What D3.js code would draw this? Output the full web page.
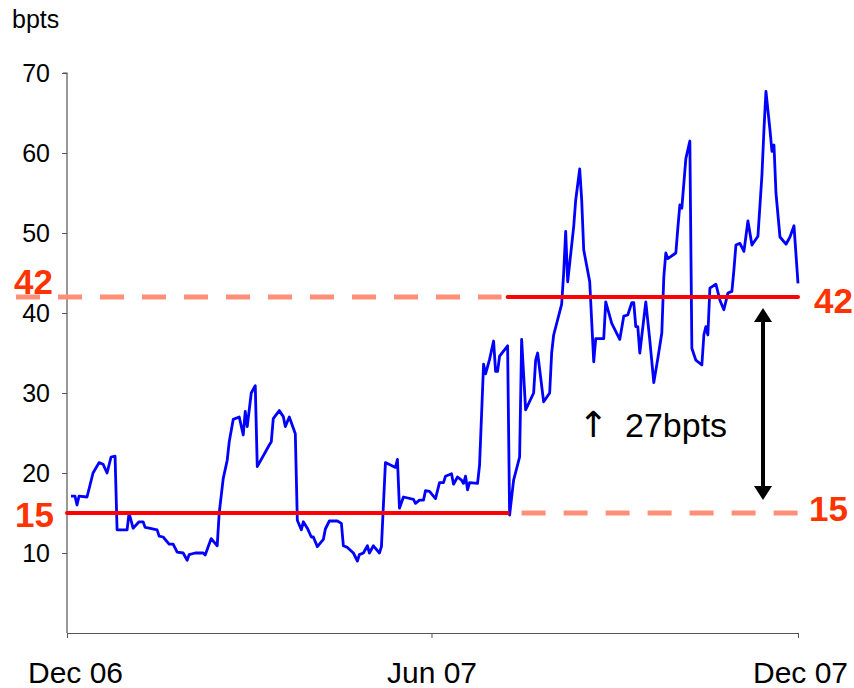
<!DOCTYPE html>
<html>
<head>
<meta charset="utf-8">
<script src="https://cdn.jsdelivr.net/npm/d3@7"></script>
<style>
  html, body { margin: 0; padding: 0; background: #fff; }
  svg { display: block; font-family: "Liberation Sans", Arial, sans-serif; }
</style>
</head>
<body>
<svg id="chart" width="854" height="688"></svg>
<script>
// Spread series (basis points), daily observations
const dates = [
  "2006-12-03","2006-12-05","2006-12-06","2006-12-07","2006-12-11","2006-12-14","2006-12-17","2006-12-19","2006-12-21","2006-12-23",
  "2006-12-25","2006-12-26","2006-12-31","2007-01-01","2007-01-03","2007-01-06","2007-01-08","2007-01-09","2007-01-11","2007-01-15",
  "2007-01-16","2007-01-18","2007-01-21","2007-01-23","2007-01-25","2007-01-28","2007-01-30","2007-01-31","2007-02-03","2007-02-07",
  "2007-02-08","2007-02-11","2007-02-14","2007-02-15","2007-02-17","2007-02-19","2007-02-20","2007-02-22","2007-02-25","2007-02-27",
  "2007-02-28","2007-03-01","2007-03-03","2007-03-05","2007-03-06","2007-03-12","2007-03-13","2007-03-14","2007-03-17","2007-03-19",
  "2007-03-20","2007-03-22","2007-03-25","2007-03-26","2007-03-28","2007-03-29","2007-03-31","2007-04-02","2007-04-03","2007-04-05",
  "2007-04-08","2007-04-09","2007-04-11","2007-04-15","2007-04-17","2007-04-18","2007-04-20","2007-04-23","2007-04-24","2007-04-25",
  "2007-04-26","2007-04-28","2007-04-30","2007-05-01","2007-05-03","2007-05-06","2007-05-07","2007-05-09","2007-05-14","2007-05-15",
  "2007-05-16","2007-05-18","2007-05-23","2007-05-24","2007-05-26","2007-05-28","2007-05-29","2007-05-31","2007-06-03","2007-06-05",
  "2007-06-07","2007-06-08","2007-06-11","2007-06-12","2007-06-14","2007-06-16","2007-06-17","2007-06-18","2007-06-19","2007-06-20",
  "2007-06-24","2007-06-25","2007-06-27","2007-06-28","2007-06-30","2007-07-02","2007-07-03","2007-07-04","2007-07-05","2007-07-09",
  "2007-07-10","2007-07-12","2007-07-15","2007-07-16","2007-07-18","2007-07-22","2007-07-23","2007-07-24","2007-07-27","2007-07-30",
  "2007-07-31","2007-08-01","2007-08-05","2007-08-06","2007-08-07","2007-08-08","2007-08-11","2007-08-12","2007-08-14","2007-08-15",
  "2007-08-16","2007-08-19","2007-08-21","2007-08-22","2007-08-26","2007-08-27","2007-08-30","2007-09-03","2007-09-05","2007-09-07",
  "2007-09-09","2007-09-10","2007-09-11","2007-09-12","2007-09-13","2007-09-16","2007-09-18","2007-09-20","2007-09-22","2007-09-24",
  "2007-09-25","2007-09-26","2007-09-27","2007-10-01","2007-10-02","2007-10-03","2007-10-04","2007-10-06","2007-10-08","2007-10-09",
  "2007-10-11","2007-10-14","2007-10-15","2007-10-16","2007-10-17","2007-10-18","2007-10-21","2007-10-23","2007-10-25","2007-10-27",
  "2007-10-29","2007-10-30","2007-10-31","2007-11-02","2007-11-04","2007-11-06","2007-11-08","2007-11-11","2007-11-13","2007-11-14",
  "2007-11-15","2007-11-17","2007-11-18","2007-11-19","2007-11-20","2007-11-22","2007-11-25","2007-11-27","2007-11-29","2007-12-01"
];
const spread = [
  17.1, 17.1, 16.0, 17.1, 17.0, 20.0, 21.3, 21.1, 20.0, 22.0,
  22.1, 12.9, 12.9, 15.0, 13.1, 13.9, 13.9, 13.2, 13.1, 12.9,
  12.1, 12.0, 11.1, 11.1, 10.1, 10.0, 9.1, 9.8, 10.0, 10.0,
  9.75, 11.8, 10.9, 15.0, 19.3, 21.6, 23.9, 26.7, 27.0, 24.75,
  27.7, 25.8, 30.0, 30.9, 20.8, 23.5, 23.9, 26.8, 27.8, 27.05,
  25.8, 27.0, 24.9, 14.1, 12.9, 13.9, 13.1, 12.0, 12.0, 10.8,
  11.7, 13.0, 14.0, 14.0, 13.7, 10.9, 10.7, 10.0, 9.5, 9.0,
  9.8, 10.0, 10.9, 10.0, 10.9, 10.0, 10.8, 21.3, 20.7, 21.7,
  15.6, 17.0, 16.7, 16.2, 16.6, 16.6, 17.8, 17.7, 16.8, 18.8,
  18.8, 19.6, 19.9, 18.6, 19.5, 19.1, 18.7, 19.6, 17.9, 18.8,
  18.7, 21.0, 33.6, 32.4, 34.2, 36.5, 32.7, 32.7, 34.6, 35.9,
  14.75, 19.1, 22.0, 36.7, 27.9, 30.0, 34.1, 35.0, 28.9, 30.0,
  35.0, 37.25, 41.1, 45.0, 50.2, 43.9, 50.8, 54.1, 58.0, 54.1,
  47.9, 43.9, 33.9, 36.8, 36.8, 41.4, 38.7, 36.7, 39.6, 39.75,
  41.3, 41.3, 38.3, 38.3, 35.0, 41.4, 36.6, 31.3, 34.3, 37.5,
  44.5, 47.5, 46.8, 47.5, 50.6, 53.5, 53.1, 59.3, 61.5, 35.6,
  34.1, 33.5, 37.25, 38.3, 37.25, 43.1, 43.6, 41.6, 40.4, 42.5,
  42.7, 45.4, 48.5, 48.7, 47.7, 51.5, 48.5, 49.6, 57.25, 62.9,
  67.7, 62.9, 60.2, 61.0, 55.0, 49.5, 48.6, 49.5, 50.9, 43.7
];

// Axis ticks
const yTicks = [10, 20, 30, 40, 50, 60, 70];
const xTicks = ["2006-12-01", "2007-06-01", "2007-12-01"];

// Average levels before and after the regime change
const lowLevel = 15;
const highLevel = 42;
const breakDate = "2007-07-09";
const levelGap = highLevel - lowLevel;  // 27

const parse = d3.timeParse("%Y-%m-%d");
const data = dates.map((d, i) => ({ date: parse(d), value: spread[i] }));

const svg = d3.select("#chart");
const x = d3.scaleTime()
  .domain([parse("2006-12-01"), parse("2007-12-01")])
  .range([67, 798]);
const y = d3.scaleLinear().domain([0, 70]).range([633, 73]);

const FONT = "Liberation Sans, Arial, sans-serif";

// Y axis
const yAxis = svg.append("g")
  .attr("transform", "translate(67,0)")
  .call(d3.axisLeft(y).tickValues(yTicks).tickSize(5).tickSizeOuter(0).tickPadding(12));
yAxis.select(".domain").attr("d", `M0,${y(0)}V${y(70)}H-4`).attr("stroke", "#555").attr("stroke-width", 1.2);
yAxis.selectAll(".tick line").attr("stroke", "#555");
yAxis.selectAll(".tick text").attr("font-size", 25).attr("fill", "#000").attr("font-family", FONT);

// X axis
const xAxis = svg.append("g")
  .attr("transform", `translate(0,${y(0)})`)
  .call(d3.axisBottom(x).tickValues(xTicks.map(parse)).tickFormat(d3.timeFormat("%b %y"))
    .tickSize(5).tickSizeOuter(0).tickPadding(24));
xAxis.select(".domain").attr("stroke", "#555").attr("stroke-width", 1.2);
xAxis.selectAll(".tick line").attr("stroke", "#555");
xAxis.selectAll(".tick text").attr("font-size", 30).attr("fill", "#000").attr("font-family", FONT);
xAxis.selectAll(".tick text").filter((d, i) => i === 0).attr("dx", 8);
xAxis.selectAll(".tick text").filter((d, i) => i === 2).attr("dx", 2);

// Unit label
svg.append("text").attr("x", 12).attr("y", 28)
  .attr("font-size", 25).text("bpts");

// Level lines: dashed where the level does not apply, solid where it does
const xStart = x.range()[0], xEnd = x.range()[1];
const xBreak = x(parse(breakDate));

svg.append("line")
  .attr("x1", 16).attr("x2", xBreak - 6)
  .attr("y1", y(highLevel)).attr("y2", y(highLevel))
  .attr("stroke", "#ff8f78").attr("stroke-width", 5)
  .attr("stroke-dasharray", "24 18");
svg.append("line")
  .attr("x1", xBreak + 14).attr("x2", xEnd + 4)
  .attr("y1", y(lowLevel)).attr("y2", y(lowLevel))
  .attr("stroke", "#ff8f78").attr("stroke-width", 5)
  .attr("stroke-dasharray", "24 18");

// Spread line
const line = d3.line().x(d => x(d.date)).y(d => y(d.value));
svg.append("path").datum(data)
  .attr("d", line)
  .attr("fill", "none")
  .attr("stroke", "#0000ff")
  .attr("stroke-width", 2.8)
  .attr("stroke-linejoin", "round");

svg.append("line")
  .attr("x1", xStart).attr("x2", xBreak)
  .attr("y1", y(lowLevel)).attr("y2", y(lowLevel))
  .attr("stroke", "#ff0000").attr("stroke-width", 4).attr("stroke-linecap", "round");
svg.append("line")
  .attr("x1", xBreak).attr("x2", xEnd)
  .attr("y1", y(highLevel)).attr("y2", y(highLevel))
  .attr("stroke", "#ff0000").attr("stroke-width", 4).attr("stroke-linecap", "round");

// Level labels
const labelColor = "#ff3300";
const lvl = [
  { v: highLevel, x: 14, dy: -3, anchor: "start" },
  { v: lowLevel, x: 15, dy: 14, anchor: "start" },
  { v: highLevel, x: 853, dy: 16, anchor: "end" },
  { v: lowLevel, x: 848, dy: 8, anchor: "end" }
];
svg.selectAll("text.level").data(lvl).join("text")
  .attr("class", "level")
  .attr("x", d => d.x).attr("y", d => y(d.v) + d.dy)
  .attr("text-anchor", d => d.anchor)
  .attr("font-size", 35).attr("font-weight", "bold")
  .attr("fill", labelColor)
  .text(d => d.v);

// Double-headed arrow spanning the gap between the two levels
const ax = 763;
const aTop = y(highLevel) + 11, aBot = y(lowLevel) - 13;
const head = 14, half = 9;
svg.append("line")
  .attr("x1", ax).attr("x2", ax)
  .attr("y1", aTop + head - 2).attr("y2", aBot - head + 2)
  .attr("stroke", "#000").attr("stroke-width", 4);
svg.append("path")
  .attr("d", `M${ax},${aTop}L${ax - half},${aTop + head}L${ax + half},${aTop + head}Z`)
  .attr("fill", "#000");
svg.append("path")
  .attr("d", `M${ax},${aBot}L${ax - half},${aBot - head}L${ax + half},${aBot - head}Z`)
  .attr("fill", "#000");

// Gap annotation
const note = svg.append("text").attr("x", 578).attr("y", 437).attr("font-size", 34);
note.append("tspan").attr("font-family", "DejaVu Sans, sans-serif").attr("font-size", 36).text("\u2191");
note.append("tspan").attr("x", 625).text(`${levelGap}bpts`);
</script>
</body>
</html>
